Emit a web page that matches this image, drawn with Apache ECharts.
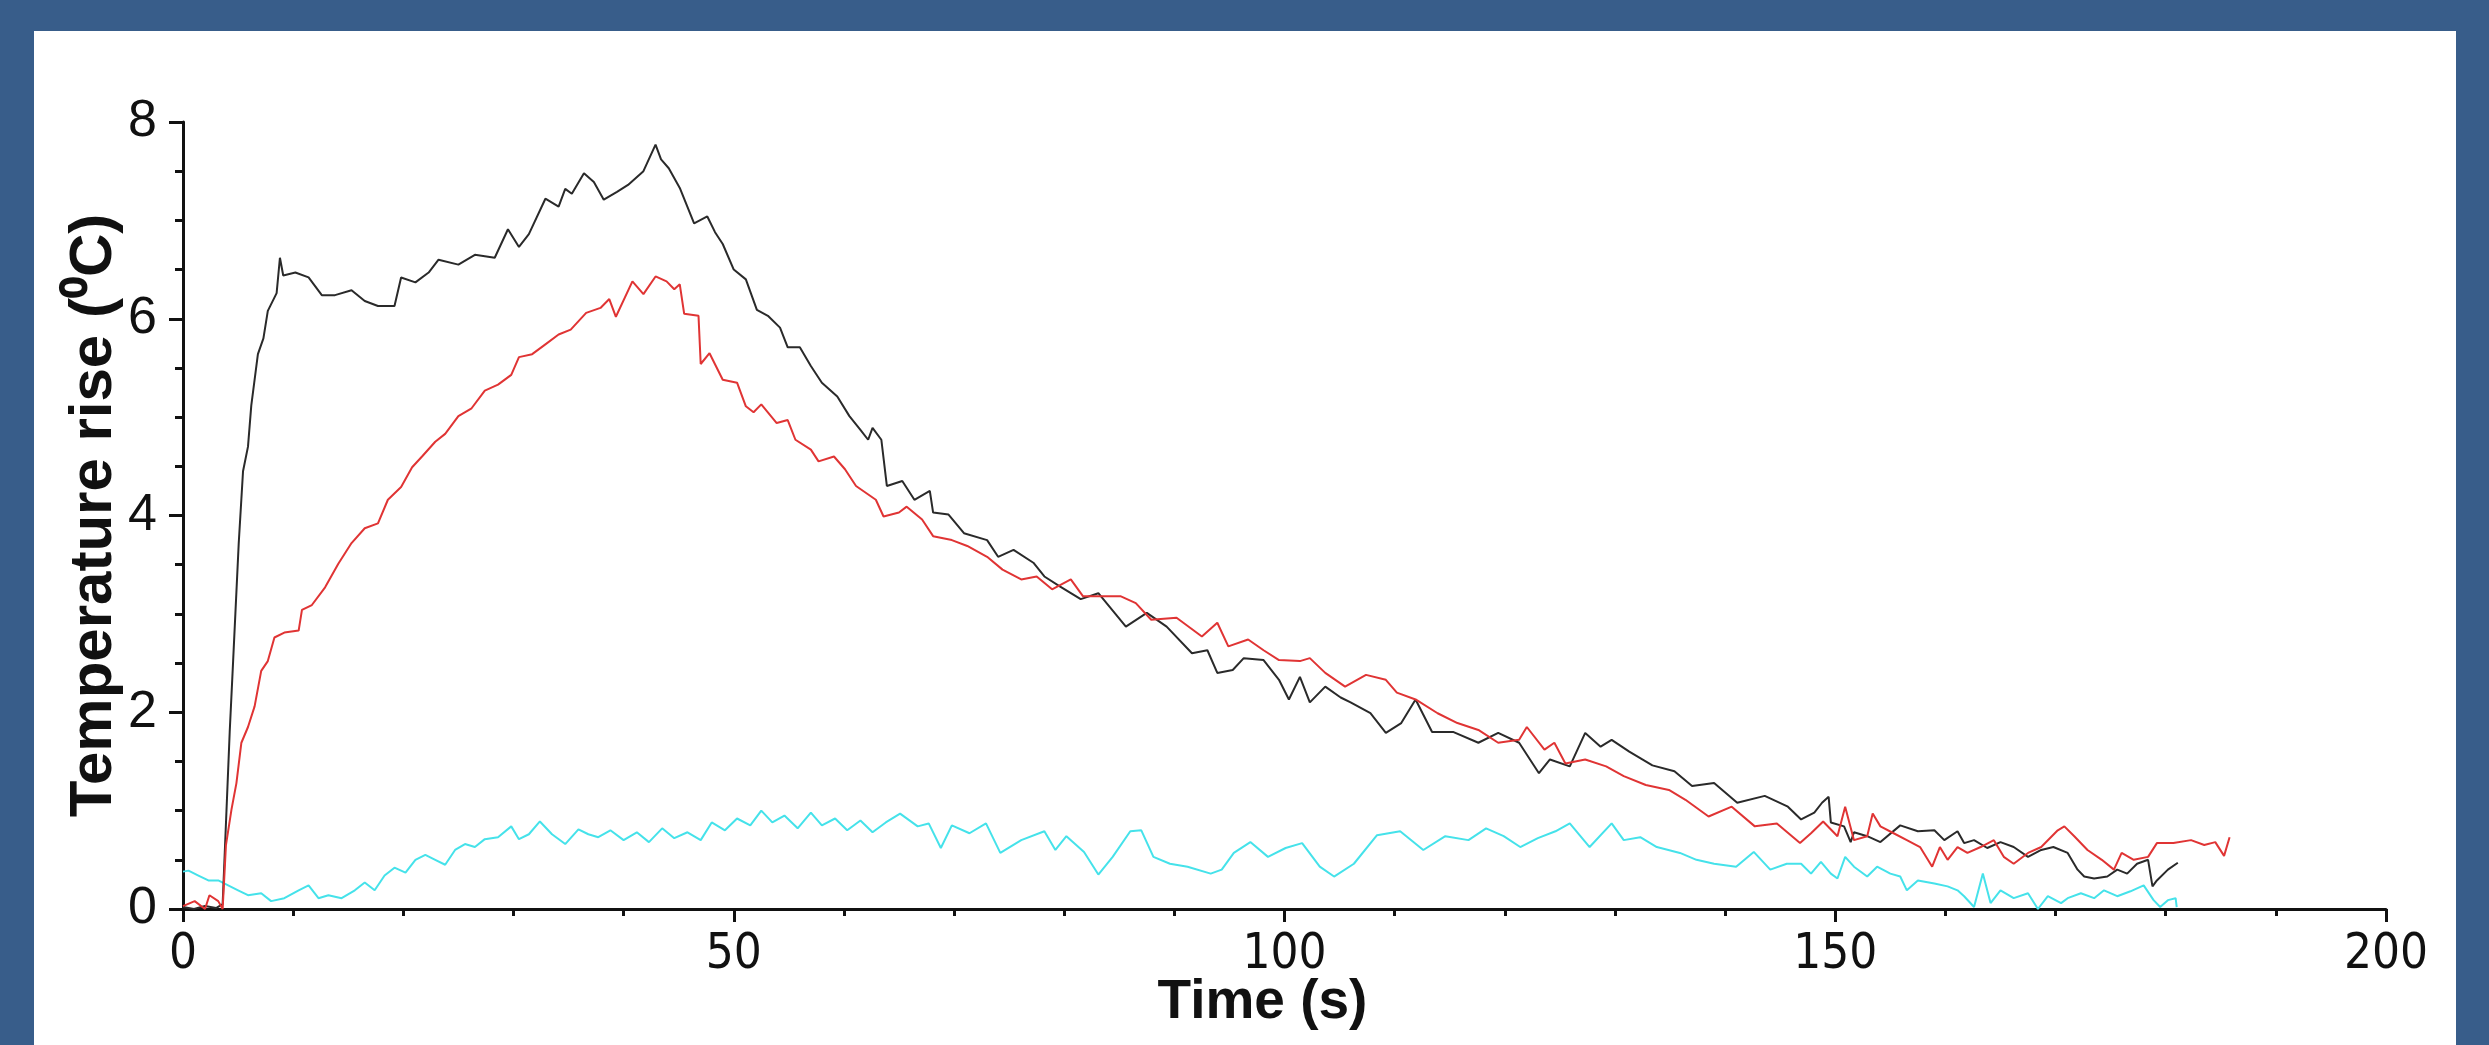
<!DOCTYPE html>
<html><head><meta charset="utf-8">
<script src="https://cdn.jsdelivr.net/npm/echarts@6/dist/echarts.min.js"></script>
<style>
html,body{margin:0;padding:0;width:2489px;height:1045px;background:#385d8a;overflow:hidden}
#panel{position:absolute;left:34px;top:31px;width:2422px;height:1014px;background:#fff}
#chart{position:absolute;left:0;top:0;width:2489px;height:1045px}
</style></head><body>
<div id="panel"></div><div id="chart"></div>
<script>
// ---- data (time in s, temperature rise in °C) ----
const xTicks = [0, 50, 100, 150, 200];
const yTicks = [0, 2, 4, 6, 8];

const blackT = [0,1,2,3,3.6,4.24,4.55,5.06,5.45,5.9,6.2,6.8,7.3,7.7,8.5,8.8,9.1,10.2,11.4,12.6,13.8,15.3,16.5,17.7,19.2,19.8,21.1,22.3,23.2,25,26.5,28.3,29.5,30.5,31.4,32.9,34.1,34.7,35.3,36.4,37.3,38.2,39.4,40.4,41.8,42.9,43.4,44.1,45.1,46.4,47.6,48.3,49.0,50.0,51.1,52.1,53.1,54.2,54.9,56.0,57.0,58.0,59.4,60.5,61.5,62.2,62.6,63.4,63.9,65.3,66.4,67.8,68.1,69.5,70.9,73.0,74.0,75.4,77.2,78.2,79.6,81.5,83.1,85.6,87.5,89.3,91.6,93.0,93.9,95.3,96.3,98.1,99.5,100.4,101.4,102.3,103.7,105.1,106.0,107.8,109.2,110.6,111.9,113.4,115.3,117.6,119.4,121.3,123.1,124.1,125.9,127.3,128.7,129.7,131.3,133.4,135.4,137.0,139.0,141.1,143.6,145.7,146.9,148.1,148.8,149.4,149.6,150.8,151.4,151.7,152.9,154.1,155.9,157.5,159.0,159.9,161.1,161.7,162.6,163.8,165.0,166.2,167.5,168.7,169.8,171.1,172.0,172.6,173.5,174.7,175.6,176.5,177.4,178.4,178.8,179.2,180.2,181.1];
const blackV = [0.02,0.0,0.03,0.01,0.05,1.8,2.52,3.72,4.45,4.70,5.12,5.64,5.80,6.08,6.26,6.62,6.44,6.47,6.42,6.24,6.24,6.29,6.18,6.13,6.13,6.42,6.37,6.47,6.60,6.55,6.65,6.62,6.91,6.73,6.86,7.22,7.14,7.32,7.27,7.48,7.39,7.21,7.29,7.36,7.50,7.77,7.62,7.53,7.33,6.97,7.04,6.88,6.76,6.50,6.40,6.09,6.03,5.91,5.71,5.71,5.52,5.35,5.21,5.01,4.87,4.77,4.89,4.77,4.30,4.35,4.16,4.25,4.03,4.01,3.82,3.75,3.58,3.65,3.52,3.38,3.28,3.15,3.21,2.87,3.01,2.87,2.60,2.63,2.40,2.43,2.55,2.53,2.33,2.13,2.36,2.10,2.26,2.15,2.10,1.99,1.79,1.89,2.13,1.80,1.80,1.69,1.79,1.69,1.38,1.52,1.45,1.79,1.65,1.72,1.60,1.46,1.40,1.25,1.28,1.08,1.15,1.04,0.91,0.98,1.08,1.14,0.88,0.84,0.68,0.78,0.74,0.68,0.85,0.79,0.80,0.70,0.79,0.67,0.70,0.62,0.68,0.63,0.53,0.60,0.63,0.57,0.40,0.33,0.31,0.33,0.40,0.36,0.46,0.50,0.23,0.29,0.40,0.47];

const redT = [0,1.06,2,2.4,3.2,3.6,3.9,4.4,4.85,5.3,5.9,6.5,7.1,7.7,8.3,9.2,10.5,10.8,11.7,12.9,14.1,15.3,16.5,17.7,18.6,19.8,20.8,21.7,22.9,23.8,25.0,26.2,27.4,28.6,29.8,30.5,31.7,32.9,34.1,35.2,36.6,37.9,38.7,39.3,40.8,41.8,42.9,43.9,44.6,45.1,45.5,46.8,47.0,47.8,49.0,50.3,51.1,51.8,52.5,53.9,54.9,55.6,57.0,57.7,59.1,60.1,61.1,62.9,63.6,65.0,65.7,67.1,68.1,69.8,71.2,73.0,74.4,76.1,77.5,78.9,80.6,81.7,83.3,85.1,86.5,87.9,90.2,92.5,93.9,94.9,96.7,98.1,99.5,101.4,102.3,103.7,105.5,107.4,109.2,110.2,111.9,113.9,115.7,117.6,119.4,121.3,122.0,123.6,124.5,125.5,127.3,129.2,130.8,132.8,134.9,136.4,138.5,140.6,142.7,144.7,146.8,147.8,148.9,150.2,150.9,151.7,152.9,153.4,154.1,155.3,156.5,157.7,158.8,159.5,160.2,161.1,162.0,163.2,164.4,165.3,166.2,167.5,168.7,170.2,170.8,171.7,172.9,174.2,175.3,176.0,177.1,178.4,179.2,180.7,182.3,183.5,184.5,185.3,185.8];
const redV = [0.03,0.08,0.0,0.14,0.08,0.0,0.65,1.01,1.28,1.69,1.85,2.06,2.42,2.52,2.76,2.81,2.83,3.04,3.09,3.27,3.51,3.72,3.87,3.92,4.16,4.29,4.49,4.60,4.75,4.83,5.01,5.09,5.27,5.33,5.43,5.61,5.64,5.74,5.84,5.89,6.06,6.11,6.20,6.02,6.38,6.25,6.43,6.38,6.30,6.35,6.05,6.03,5.54,5.65,5.38,5.35,5.11,5.05,5.13,4.94,4.97,4.77,4.67,4.55,4.60,4.47,4.30,4.16,3.99,4.03,4.09,3.96,3.79,3.75,3.69,3.58,3.45,3.35,3.38,3.25,3.35,3.18,3.18,3.18,3.11,2.94,2.96,2.77,2.91,2.67,2.74,2.63,2.53,2.52,2.55,2.40,2.26,2.38,2.33,2.20,2.13,1.99,1.89,1.82,1.69,1.72,1.85,1.62,1.69,1.48,1.52,1.45,1.35,1.26,1.21,1.11,0.94,1.04,0.84,0.87,0.67,0.77,0.89,0.74,1.04,0.70,0.74,0.97,0.84,0.77,0.70,0.63,0.43,0.63,0.50,0.63,0.57,0.63,0.70,0.53,0.46,0.57,0.63,0.80,0.84,0.74,0.60,0.50,0.40,0.57,0.50,0.53,0.67,0.67,0.70,0.65,0.68,0.54,0.73];

const cyanT = [0,0.5,1.4,2.3,3.2,4.1,5.0,5.9,7.1,8.0,9.2,10.5,11.4,12.3,13.2,14.4,15.6,16.5,17.4,18.3,19.2,20.2,21.1,22.0,22.9,23.8,24.7,25.6,26.5,27.4,28.6,29.8,30.5,31.4,32.4,33.5,34.7,35.9,36.8,37.7,38.8,40.0,41.2,42.3,43.5,44.6,45.8,47.0,48.0,49.2,50.3,51.5,52.5,53.5,54.6,55.8,57.0,58.0,59.2,60.3,61.5,62.6,63.8,65.1,66.7,67.7,68.8,69.8,71.4,72.9,74.2,76.1,78.2,79.2,80.2,81.8,83.1,84.4,86.0,87.0,88.1,89.6,91.2,93.3,94.3,95.4,96.9,98.5,100.1,101.6,103.2,104.5,106.3,108.4,110.5,112.6,114.6,116.7,118.3,119.9,121.4,123.0,124.6,125.9,127.7,129.7,130.8,132.3,133.8,135.9,137.4,139.0,141.0,142.6,144.1,145.6,146.9,147.8,148.7,149.6,150.2,150.9,151.7,152.9,153.8,155.0,155.9,156.5,157.5,159.0,160.2,161.1,161.7,162.6,163.4,164.1,165.0,166.2,167.5,168.4,169.3,170.5,171.1,172.3,173.5,174.4,175.6,176.8,178.0,178.9,179.5,180.2,180.9,181.0];
const cyanV = [0.38,0.39,0.34,0.29,0.29,0.24,0.19,0.14,0.16,0.08,0.11,0.19,0.24,0.11,0.14,0.11,0.19,0.27,0.19,0.34,0.42,0.37,0.50,0.55,0.50,0.45,0.60,0.66,0.63,0.71,0.73,0.84,0.71,0.76,0.89,0.76,0.66,0.81,0.76,0.73,0.80,0.70,0.78,0.68,0.82,0.72,0.78,0.70,0.88,0.80,0.92,0.85,1.00,0.88,0.95,0.82,0.98,0.85,0.92,0.80,0.90,0.78,0.88,0.97,0.84,0.87,0.62,0.85,0.77,0.87,0.57,0.70,0.79,0.60,0.74,0.58,0.35,0.53,0.79,0.80,0.53,0.46,0.43,0.36,0.40,0.57,0.68,0.53,0.62,0.67,0.43,0.33,0.46,0.75,0.79,0.60,0.74,0.70,0.82,0.74,0.63,0.72,0.79,0.87,0.63,0.87,0.70,0.73,0.63,0.57,0.50,0.46,0.43,0.58,0.40,0.46,0.46,0.36,0.48,0.36,0.31,0.53,0.43,0.33,0.43,0.36,0.33,0.19,0.29,0.26,0.23,0.19,0.13,0.02,0.36,0.06,0.19,0.11,0.16,0.0,0.13,0.06,0.11,0.16,0.11,0.19,0.13,0.18,0.24,0.09,0.02,0.09,0.11,0.02];

const pairs = (t, v) => t.map((x, i) => [x, v[i]]);

const chart = echarts.init(document.getElementById('chart'), null, {renderer: 'canvas'});
const axisCol = '#111';
const tickFont = "'DejaVu Sans Condensed', 'DejaVu Sans', sans-serif";
const titleFont = "'Liberation Sans', Arial, sans-serif";
chart.setOption({
  animation: false,
  backgroundColor: 'transparent',
  grid: {left: 183, right: 103, top: 122, bottom: 136, containLabel: false},
  xAxis: {
    type: 'value', min: 0, max: 200, interval: 50, offset: 6,
    name: 'Time (s)', nameLocation: 'middle', nameGap: 60, nameMoveOverlap: false,
    nameTextStyle: {fontFamily: titleFont, fontWeight: 'bold', fontSize: 55, color: axisCol, padding: [0, 44, 0, 0]},
    axisLine: {show: true, lineStyle: {color: axisCol, width: 3}},
    axisTick: {show: true, length: 13, lineStyle: {color: axisCol, width: 3}},
    minorTick: {show: true, splitNumber: 5, length: 7, lineStyle: {color: axisCol, width: 3}},
    splitLine: {show: false},
    axisLabel: {margin: 16, fontFamily: tickFont, fontSize: 49, color: axisCol,
      formatter: v => xTicks.includes(v) ? String(v) : ''}
  },
  yAxis: {
    type: 'value', min: 0, max: 8, interval: 2, offset: 4,
    name: 'Temperature rise (⁰C)', nameLocation: 'middle', nameGap: 55, nameMoveOverlap: false,
    nameTextStyle: {fontFamily: titleFont, fontWeight: 'bold', fontSize: 60, color: axisCol},
    axisLine: {show: true, lineStyle: {color: axisCol, width: 3}},
    axisTick: {show: true, length: 14, lineStyle: {color: axisCol, width: 3}},
    minorTick: {show: true, splitNumber: 4, length: 8, lineStyle: {color: axisCol, width: 3}},
    splitLine: {show: false},
    axisLabel: {margin: 22, fontFamily: 'Liberation Sans', fontSize: 52, color: axisCol,
      formatter: v => yTicks.includes(v) ? String(v) : ''}
  },
  series: [
    {type: 'line', data: pairs(cyanT, cyanV), symbol: 'none', lineStyle: {color: '#45e2ea', width: 2}, color: '#45e2ea'},
    {type: 'line', data: pairs(blackT, blackV), symbol: 'none', lineStyle: {color: '#2a2a2a', width: 2}, color: '#2a2a2a'},
    {type: 'line', data: pairs(redT, redV), symbol: 'none', lineStyle: {color: '#e03434', width: 2}, color: '#e03434'}
  ]
});
</script>
</body></html>
